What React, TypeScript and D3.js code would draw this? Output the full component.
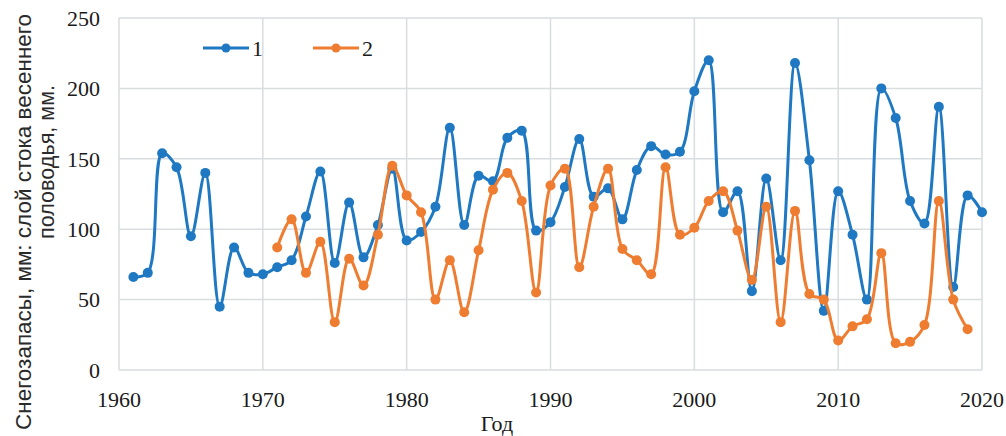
import React from "react";
import * as d3 from "d3";

const years1: number[] = d3.range(1961, 2021);
const series1: number[] = [
  66, 69, 154, 144, 95, 140, 45, 87, 69, 68,
  73, 78, 109, 141, 76, 119, 80, 103, 143, 92,
  98, 116, 172, 103, 138, 134, 165, 170, 99, 105,
  130, 164, 123, 129, 107, 142, 159, 153, 155, 198,
  220, 112, 127, 56, 136, 78, 218, 149, 42, 127,
  96, 50, 200, 179, 120, 104, 187, 59, 124, 112,
];
const years2: number[] = d3.range(1971, 2020);
const series2: number[] = [
  87, 107, 69, 91, 34, 79, 60, 96, 145, 124,
  112, 50, 78, 41, 85, 128, 140, 120, 55, 131,
  143, 73, 116, 143, 86, 78, 68, 144, 96, 101,
  120, 127, 99, 64, 116, 34, 113, 54, 50, 21,
  31, 36, 83, 19, 20, 32, 120, 50, 29,
];
const xTicks: number[] = [1960, 1970, 1980, 1990, 2000, 2010, 2020];
const yTicks: number[] = [0, 50, 100, 150, 200, 250];
const legendLabels: string[] = ["1", "2"];
const yLabelLines: string[] = ["Снегозапасы, мм: слой стока весеннего", "половодья, мм."];
const xLabel = "Год";

const BLUE = "#1f79c2";
const ORANGE = "#ee7d31";
const GRID = "#d9dde0";
const SERIF = "'Liberation Serif', 'Times New Roman', serif";
const SANS = "'Liberation Sans Narrow', 'Liberation Sans', Arial, sans-serif";

export default function App() {
  const x = d3.scaleLinear().domain([1960, 2020]).range([119, 982]);
  const y = d3.scaleLinear().domain([0, 250]).range([370, 18]);
  const line = d3
    .line<[number, number]>()
    .x((d) => x(d[0]))
    .y((d) => y(d[1]))
    .curve(d3.curveCatmullRom.alpha(0.5));
  const d1: [number, number][] = years1.map((yr, i) => [yr, series1[i]]);
  const d2: [number, number][] = years2.map((yr, i) => [yr, series2[i]]);
  const series = [
    { data: d1, color: BLUE },
    { data: d2, color: ORANGE },
  ];
  return (
    <svg
      width={1006}
      height={436}
      style={{ position: "absolute", left: 0, top: 0, background: "#fff" }}
    >
      <rect x={0} y={0} width={1006} height={436} fill="#fff" />
      {yTicks.map((t) => (
        <line key={"h" + t} x1={x(1960)} x2={x(2020)} y1={y(t)} y2={y(t)} stroke={GRID} strokeWidth={1.5} />
      ))}
      {xTicks.map((t) => (
        <line key={"v" + t} x1={x(t)} x2={x(t)} y1={y(0)} y2={y(250)} stroke={GRID} strokeWidth={1.5} />
      ))}
      {yTicks.map((t) => (
        <text key={"yl" + t} x={100} y={y(t)} dy="0.35em" textAnchor="end" fontFamily={SERIF} fontSize={22} fill="#1a1a1a">
          {t}
        </text>
      ))}
      {xTicks.map((t) => (
        <text key={"xl" + t} x={x(t)} y={399} dy="0.35em" textAnchor="middle" fontFamily={SERIF} fontSize={22} fill="#1a1a1a">
          {t}
        </text>
      ))}
      <text x={497} y={431} textAnchor="middle" fontFamily={SERIF} fontSize={22} fill="#1a1a1a">
        {xLabel}
      </text>
      <text
        transform="translate(23,222) rotate(-90)"
        textAnchor="middle"
        dy="0.35em"
        fontFamily={SANS}
        fontSize={22}
        fill="#2a2a2a"
        textLength={416}
        lengthAdjust="spacingAndGlyphs"
      >
        {yLabelLines[0]}
      </text>
      <text
        transform="translate(46,162) rotate(-90)"
        textAnchor="middle"
        dy="0.35em"
        fontFamily={SANS}
        fontSize={22}
        fill="#2a2a2a"
        textLength={154}
        lengthAdjust="spacingAndGlyphs"
      >
        {yLabelLines[1]}
      </text>
      {series.map((s, si) => (
        <g key={"s" + si}>
          <path d={line(s.data) || ""} fill="none" stroke={s.color} strokeWidth={3} />
          {s.data.map((p, i) => (
            <circle key={i} cx={x(p[0])} cy={y(p[1])} r={5} fill={s.color} />
          ))}
        </g>
      ))}
      {legendLabels.map((lab, i) => {
        const x0 = i === 0 ? 203 : 313;
        const color = i === 0 ? BLUE : ORANGE;
        return (
          <g key={"lg" + i}>
            <line x1={x0} x2={x0 + 46} y1={48} y2={48} stroke={color} strokeWidth={3} />
            <circle cx={x0 + 23} cy={48} r={4.5} fill={color} />
            <text x={x0 + 49} y={48} dy="0.35em" fontFamily={SERIF} fontSize={22} fill="#1a1a1a">
              {lab}
            </text>
          </g>
        );
      })}
    </svg>
  );
}
